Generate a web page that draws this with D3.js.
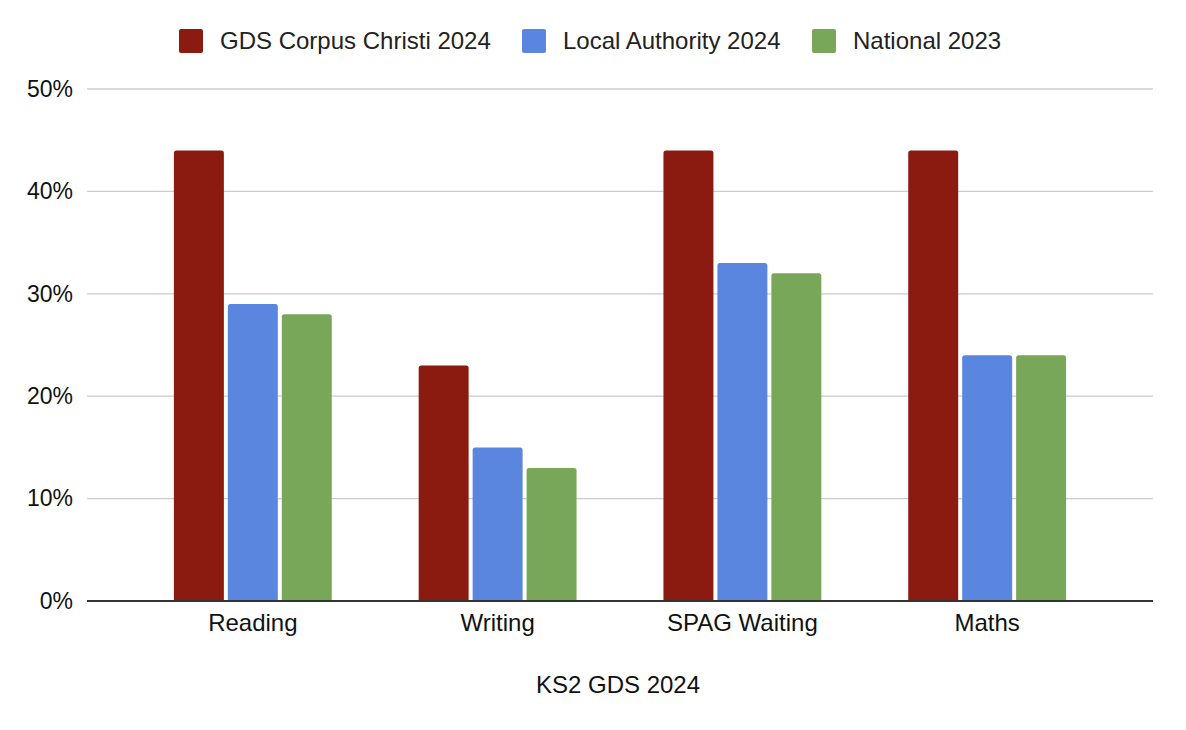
<!DOCTYPE html>
<html>
<head>
<meta charset="utf-8">
<script src="https://cdn.jsdelivr.net/npm/d3@7.9.0/dist/d3.min.js"></script>
<style>
  html, body { margin: 0; padding: 0; background: #fff; }
  svg { display: block; font-family: "Liberation Sans", Arial, sans-serif; }
</style>
</head>
<body>
<svg id="chart" width="1186" height="730"></svg>
<script>
// --- data ---
const categories = ["Reading", "Writing", "SPAG Waiting", "Maths"];
const seriesNames = ["GDS Corpus Christi 2024", "Local Authority 2024", "National 2023"];
const corpusChristi = [44, 23, 44, 44];
const localAuthority = [29, 15, 33, 24];
const national = [28, 13, 32, 24];
const yTicks = [0, 10, 20, 30, 40, 50];
const xTitle = "KS2 GDS 2024";

const seriesValues = [corpusChristi, localAuthority, national];
const colors = ["#8b1a11", "#5a86e0", "#78a75a"];

const svg = d3.select("#chart");
const W = 1186, H = 730;
const margin = { top: 89, right: 33, bottom: 129, left: 87 };
const innerW = W - margin.left - margin.right;
const innerH = H - margin.top - margin.bottom;
const font = "'Liberation Sans', Arial, sans-serif";

const g = svg.append("g").attr("transform", `translate(${margin.left},${margin.top})`);

const x0 = d3.scaleBand().domain(categories).range([0, innerW])
  .paddingInner(0.355).paddingOuter(0.355);
const x1 = d3.scaleBand().domain(seriesNames).range([0, x0.bandwidth()]).paddingInner(0.074);
const y = d3.scaleLinear().domain([0, 50]).range([innerH, 0]);

// gridlines
g.append("g")
  .selectAll("line")
  .data(yTicks.filter(d => d > 0))
  .join("line")
  .attr("x1", 0).attr("x2", innerW)
  .attr("y1", d => y(d)).attr("y2", d => y(d))
  .attr("stroke", "#cccccc").attr("stroke-width", 1.3);

// y axis labels
const yAxis = g.append("g")
  .call(d3.axisLeft(y).tickValues(yTicks).tickFormat(d => d + "%").tickSize(0).tickPadding(14));
yAxis.select(".domain").remove();
yAxis.selectAll("text").attr("font-size", 23).attr("fill", "#111").attr("font-family", font);

// bars with slightly rounded tops
const topRound = (x, yTop, w, h, r) => {
  r = Math.min(r, h, w / 2);
  return `M${x},${yTop + h}V${yTop + r}Q${x},${yTop} ${x + r},${yTop}H${x + w - r}Q${x + w},${yTop} ${x + w},${yTop + r}V${yTop + h}Z`;
};

const groups = g.append("g")
  .selectAll("g")
  .data(categories)
  .join("g")
  .attr("transform", d => `translate(${x0(d)},0)`);

groups.selectAll("path")
  .data((c, i) => seriesNames.map((s, j) => ({ s, j, v: seriesValues[j][i] })))
  .join("path")
  .attr("d", d => topRound(x1(d.s), y(d.v), x1.bandwidth(), y(0) - y(d.v), 2.5))
  .attr("fill", d => colors[d.j]);

// baseline
g.append("line")
  .attr("x1", 0).attr("x2", innerW)
  .attr("y1", y(0)).attr("y2", y(0))
  .attr("stroke", "#333").attr("stroke-width", 2);

// x axis labels
const xAxis = g.append("g")
  .attr("transform", `translate(0,${innerH})`)
  .call(d3.axisBottom(x0).tickSize(0).tickPadding(13));
xAxis.select(".domain").remove();
xAxis.selectAll("text").attr("font-size", 24).attr("fill", "#111").attr("font-family", font);

// x title
svg.append("text")
  .attr("x", 618)
  .attr("y", 693)
  .attr("text-anchor", "middle")
  .attr("font-size", 24)
  .attr("fill", "#111")
  .text(xTitle);

// legend
const legendX = [179, 522, 812];
const legend = svg.append("g")
  .selectAll("g")
  .data(seriesNames)
  .join("g")
  .attr("transform", (d, i) => `translate(${legendX[i]},29)`);

legend.append("rect")
  .attr("width", 24).attr("height", 24).attr("rx", 2)
  .attr("fill", (d, i) => colors[i]);

legend.append("text")
  .attr("x", 41).attr("y", 20)
  .attr("font-size", 24)
  .attr("fill", "#222")
  .text(d => d);
</script>
</body>
</html>
